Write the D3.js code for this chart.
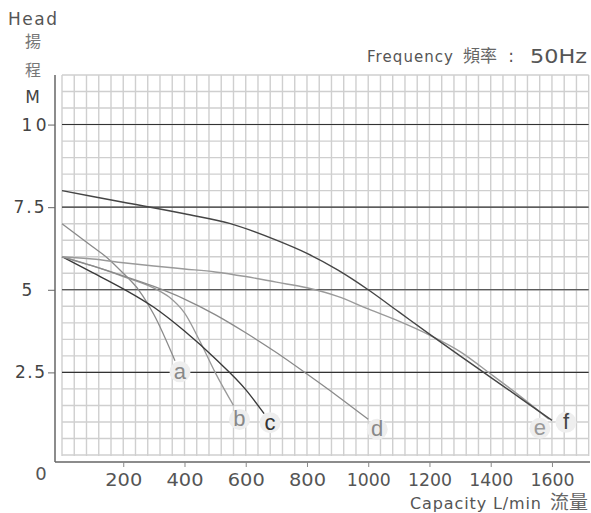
<!DOCTYPE html>
<html>
<head>
<meta charset="utf-8">
<script src="https://cdn.jsdelivr.net/npm/d3@7"></script>
<style>
html,body{margin:0;padding:0;background:#fff;}
svg{display:block;font-family:"DejaVu Sans","Liberation Sans",Arial,"Noto Sans CJK TC",sans-serif;}
</style>
</head>
<body>
<svg id="chart" width="591" height="513"></svg>
<script>
// ---- data ----
const xTicks = [200, 400, 600, 800, 1000, 1200, 1400, 1600];
const yTicks = [2.5, 5, 7.5, 10];
const yTickLabels = ["2.5", "5", "7.5", "10"];
const curveNames = ["a", "b", "c", "d", "e", "f"];
const curveA = [[0,7.0],[50,6.65],[100,6.3],[150,5.95],[200,5.5],[250,5.0],[300,4.25],[369,2.85]];
const curveB = [[0,6.0],[100,5.72],[200,5.4],[300,5.05],[350,4.78],[400,4.3],[450,3.45],[500,2.5],[560,1.5]];
const curveC = [[0,6.0],[100,5.52],[200,5.03],[300,4.47],[400,3.75],[500,2.92],[600,1.98],[660,1.25]];
const curveD = [[0,6.0],[100,5.72],[200,5.42],[300,5.1],[400,4.72],[500,4.25],[600,3.7],[700,3.1],[800,2.45],[900,1.78],[1000,1.08]];
const curveE = [[0,6.0],[100,5.93],[200,5.82],[300,5.72],[400,5.63],[500,5.54],[600,5.4],[700,5.23],[800,5.06],[900,4.8],[1000,4.42],[1100,4.05],[1200,3.63],[1300,3.13],[1400,2.45],[1500,1.75],[1590,1.08]];
const curveF = [[0,8.0],[200,7.65],[400,7.3],[550,7.0],[700,6.5],[800,6.1],[900,5.6],[1000,5.0],[1100,4.33],[1200,3.66],[1300,3.0],[1400,2.35],[1500,1.7],[1600,1.05]];

const svg = d3.select("#chart");
const x = d3.scaleLinear().domain([0, 1720]).range([62, 588.7]);
const y = d3.scaleLinear().domain([0, 11.5]).range([455, 75]);
const latin = "'DejaVu Sans','Liberation Sans',Arial,sans-serif";
const cjk = "'Noto Sans CJK TC',sans-serif";

// grid
const grid = svg.append("g");
grid.selectAll(".vg").data(d3.range(0, 1721, 40)).enter().append("line")
  .attr("x1", d => x(d)).attr("x2", d => x(d))
  .attr("y1", y(11.5)).attr("y2", y(0) + 1)
  .attr("stroke", "#cfcfcf").attr("stroke-width", 1.4);
grid.selectAll(".hg").data(d3.range(0, 11.51, 0.5)).enter().append("line")
  .attr("x1", x(0)).attr("x2", x(1720))
  .attr("y1", d => y(d)).attr("y2", d => y(d))
  .attr("stroke", "#cfcfcf").attr("stroke-width", 1.4);
grid.selectAll(".mg").data(yTicks).enter().append("line")
  .attr("x1", x(0)).attr("x2", x(1720))
  .attr("y1", d => y(d)).attr("y2", d => y(d))
  .attr("stroke", "#333").attr("stroke-width", 1.1);

// axes
const yLabelShift = {"2.5": -25, "5": -28, "7.5": -26, "10": -21};
const yLabelLen = {"2.5": 30, "5": 11, "7.5": 31, "10": 25};
const yAxis = d3.axisLeft(y).tickValues(yTicks).tickSize(7).tickPadding(4)
  .tickFormat((d, i) => yTickLabels[i]);
const gy = svg.append("g").attr("transform", "translate(55,0)").call(yAxis);
gy.select(".domain").attr("d", "M0," + y(11.5) + "V462").attr("stroke", "#666").attr("stroke-width", 1.5);
gy.selectAll(".tick line").attr("stroke", "#666");
gy.selectAll(".tick text").attr("font-size", 17).attr("fill", "#444")
  .attr("font-family", latin)
  .attr("text-anchor", "middle")
  .attr("x", function() { return yLabelShift[this.textContent]; })
  .attr("textLength", function() { return yLabelLen[this.textContent]; })
  .attr("lengthAdjust", "spacing");

const xAxis = d3.axisBottom(x).tickValues(xTicks).tickSize(5).tickPadding(6).tickFormat(d3.format("d"));
const gx = svg.append("g").attr("transform", "translate(0,462)").call(xAxis);
gx.select(".domain").attr("d", "M55,0H590").attr("stroke", "#666").attr("stroke-width", 1.5);
gx.selectAll(".tick line").attr("stroke", "#888");
gx.selectAll(".tick text").attr("font-size", 18).attr("fill", "#555")
  .attr("font-family", latin)
  .attr("textLength", d => d >= 1000 ? 44 : 37).attr("lengthAdjust", "spacingAndGlyphs");
svg.append("text").attr("x", 41).attr("y", 480).attr("text-anchor", "middle")
  .attr("font-size", 18).attr("fill", "#555").attr("font-family", latin).text("0");

// curves
const line = d3.line().x(d => x(d[0])).y(d => y(d[1])).curve(d3.curveMonotoneX);
const series = [curveA, curveB, curveC, curveD, curveE, curveF];
const colors = ["#8a8a8a", "#999", "#3a3a3a", "#8a8a8a", "#9a9a9a", "#454545"];
const widths = [1.3, 1.3, 1.4, 1.3, 1.4, 1.4];
series.forEach((s, i) => {
  svg.append("path").attr("d", line(s)).attr("fill", "none")
    .attr("stroke", colors[i]).attr("stroke-width", widths[i]);
});

// curve labels
const labelOffsets = [[5, 11], [6, 14], [6, 9], [9, 10], [-9, 9], [14, 2]];
const labelColors = ["#888", "#888", "#333", "#888", "#999", "#444"];
series.forEach((s, i) => {
  const last = s[s.length - 1];
  const cx = x(last[0]) + labelOffsets[i][0];
  const cy = y(last[1]) + labelOffsets[i][1];
  svg.append("circle").attr("cx", cx).attr("cy", cy).attr("r", 10.5).attr("fill", "#eeeeee");
  svg.append("text").attr("x", cx).attr("y", cy + 7).attr("text-anchor", "middle")
    .attr("font-family", "'Liberation Sans',Arial,sans-serif")
    .attr("font-size", 22).attr("fill", labelColors[i]).text(curveNames[i]);
});

// titles
svg.append("text").attr("x", 8).attr("y", 25).attr("font-family", latin)
  .attr("font-size", 17).attr("fill", "#555")
  .attr("textLength", 49).attr("lengthAdjust", "spacing").text("Head");
svg.append("text").attr("x", 33).attr("y", 47).attr("text-anchor", "middle")
  .attr("font-size", 16).attr("fill", "#777").attr("font-family", cjk).text("揚");
svg.append("text").attr("x", 33).attr("y", 76).attr("text-anchor", "middle")
  .attr("font-size", 16).attr("fill", "#777").attr("font-family", cjk).text("程");
svg.append("text").attr("x", 32.5).attr("y", 103).attr("text-anchor", "middle")
  .attr("font-family", latin).attr("font-size", 17).attr("fill", "#444").text("M");

svg.append("text").attr("x", 367).attr("y", 62).attr("font-size", 15).attr("fill", "#555")
  .attr("font-family", latin).attr("textLength", 86).attr("lengthAdjust", "spacing").text("Frequency");
svg.append("text").attr("x", 463).attr("y", 62).attr("font-size", 17).attr("fill", "#666")
  .attr("font-family", cjk).text("頻率");
svg.append("text").attr("x", 511).attr("y", 62).attr("font-size", 17).attr("fill", "#555")
  .attr("font-family", latin).attr("text-anchor", "middle").text(":");
svg.append("text").attr("x", 530).attr("y", 63).attr("font-size", 20).attr("fill", "#555")
  .attr("font-family", latin).attr("textLength", 57).attr("lengthAdjust", "spacingAndGlyphs").text("50Hz");

svg.append("text").attr("x", 410).attr("y", 509).attr("font-size", 16).attr("fill", "#555")
  .attr("font-family", latin).attr("textLength", 131).attr("lengthAdjust", "spacing").text("Capacity L/min");
svg.append("text").attr("x", 550).attr("y", 509).attr("font-size", 19).attr("fill", "#666")
  .attr("font-family", cjk).text("流量");
</script>
</body>
</html>
